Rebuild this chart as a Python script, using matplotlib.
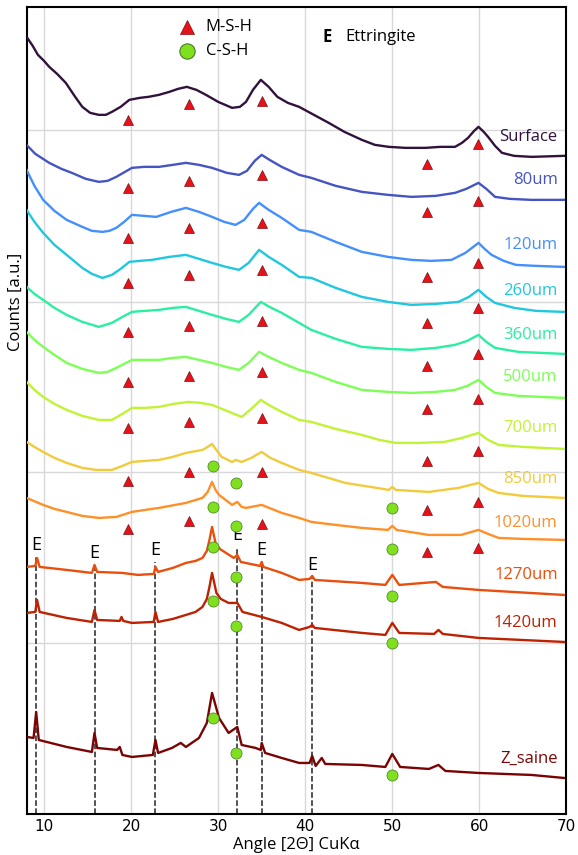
import numpy as np
import matplotlib.pyplot as plt

plt.rcParams['font.family'] = ['Open Sans', 'DejaVu Sans']

# sample names, top to bottom
samples = ['Surface', '80um', '120um', '260um', '360um', '500um', '700um',
           '850um', '1020um', '1270um', '1420um', 'Z_saine']

# angle (2theta) / stacked counts
ang_surface = [8.0, 8.7, 9.3, 10.0, 10.6, 11.5, 12.5, 13.5, 14.4, 15.3, 16.3, 17.1, 17.8, 18.8,
               19.8, 21.0, 22.0, 23.2, 24.4, 25.4, 26.4, 27.5, 28.6, 30.0, 31.6, 32.5, 33.2, 34.0,
               34.9, 35.8, 36.8, 38.0, 39.3, 41.0, 42.7, 44.5, 46.5, 48.0, 49.6, 51.5, 53.8, 55.5,
               57.2, 58.0, 58.7, 59.4, 59.9, 60.5, 61.0, 61.8, 62.6, 64.0, 66.0, 69.7]
cnt_surface = [777, 768, 759, 753, 747, 740, 731, 718, 707, 701, 699, 699, 702, 707,
               714, 716, 717, 719, 722, 725, 727, 724, 719, 712, 706, 707, 712, 724,
               734, 727, 717, 711, 707, 699, 691, 682, 674, 669, 667, 666, 666, 667,
               667, 671, 676, 683, 687, 682, 677, 668, 661, 658, 657, 658]

ang_80 = [8.0, 9.0, 10.6, 12.0, 13.2, 14.8, 16.3, 17.3, 18.3, 19.3, 20.1, 21.5, 23.2, 24.8,
          26.3, 27.8, 29.3, 31.0, 32.4, 33.3, 34.2, 35.0, 35.9, 37.3, 39.3, 40.7, 43.5, 46.5,
          49.5, 52.2, 55.0, 57.2, 58.5, 59.9, 60.8, 61.8, 63.5, 66.0, 69.7]
cnt_80 = [669, 660, 651, 645, 641, 635, 632, 633, 637, 642, 646, 647, 647, 649,
          651, 649, 646, 641, 639, 643, 653, 659, 654, 647, 639, 636, 628, 622,
          619, 617, 618, 621, 625, 631, 625, 617, 615, 614, 614]

ang_120 = [8.0, 8.9, 9.9, 11.2, 12.6, 14.4, 15.5, 16.7, 17.5, 18.3, 19.2, 20.1, 21.5, 22.9,
           24.6, 26.3, 27.8, 29.3, 30.7, 32.0, 33.0, 34.0, 34.7, 35.8, 37.3, 39.3, 40.7, 43.5,
           46.5, 49.5, 52.2, 54.5, 56.8, 58.4, 59.9, 60.6, 61.4, 62.8, 64.2, 66.5, 69.7]
cnt_120 = [644, 628, 614, 603, 594, 587, 583, 582, 583, 586, 592, 599, 598, 597,
           602, 606, 602, 597, 592, 589, 594, 605, 611, 604, 596, 584, 582, 572,
           562, 557, 554, 553, 554, 561, 571, 565, 559, 553, 549, 548, 547]

ang_260 = [8.0, 8.9, 9.9, 11.2, 12.6, 14.4, 15.5, 16.7, 17.8, 18.8, 19.8, 21.0, 22.4, 24.4,
           26.3, 27.8, 29.3, 30.9, 32.4, 33.5, 34.7, 35.8, 37.3, 39.3, 40.7, 43.5, 46.5, 49.5,
           52.2, 55.0, 57.6, 58.8, 59.9, 60.8, 61.8, 64.0, 66.5, 69.7]
cnt_260 = [604, 592, 581, 569, 559, 546, 540, 536, 539, 545, 552, 553, 554, 557,
           559, 555, 551, 547, 544, 551, 564, 557, 549, 537, 536, 526, 517, 512,
           509, 510, 512, 517, 524, 517, 511, 506, 503, 502]

ang_360 = [8.0, 8.9, 9.9, 11.2, 12.6, 14.4, 16.3, 17.8, 19.0, 20.1, 21.6, 23.2, 24.8, 26.3,
           27.8, 29.3, 30.9, 32.4, 33.5, 34.9, 35.9, 37.3, 39.3, 40.7, 43.5, 46.5, 49.5, 52.2,
           55.0, 57.2, 58.6, 59.9, 60.8, 61.8, 64.5, 69.7]
cnt_360 = [527, 520, 514, 506, 499, 492, 487, 491, 497, 502, 503, 504, 506, 507,
           503, 499, 495, 492, 499, 512, 507, 501, 491, 484, 475, 467, 465, 464,
           466, 469, 473, 479, 472, 466, 462, 460]

ang_500 = [8.0, 8.9, 9.9, 11.2, 12.6, 14.4, 16.3, 17.3, 18.3, 19.2, 20.1, 21.6, 23.2, 24.8,
           26.3, 27.8, 29.3, 30.9, 32.4, 33.5, 34.7, 35.8, 37.3, 39.3, 40.7, 43.5, 46.5, 49.5,
           52.2, 55.0, 57.2, 58.6, 59.9, 60.8, 61.8, 64.5, 69.7]
cnt_500 = [482, 474, 467, 459, 451, 445, 441, 442, 446, 450, 454, 454, 454, 456,
           457, 454, 451, 447, 444, 451, 462, 457, 451, 444, 441, 432, 424, 422,
           421, 422, 424, 428, 434, 427, 421, 418, 416]

ang_700 = [8.0, 8.9, 9.9, 11.2, 12.6, 14.4, 16.3, 17.8, 19.0, 20.1, 21.6, 23.2, 24.9, 26.6,
           28.0, 29.3, 31.0, 32.7, 33.8, 34.9, 36.0, 37.3, 39.3, 40.7, 43.5, 46.5, 48.5, 50.4,
           53.0, 56.0, 58.0, 59.9, 61.0, 62.2, 65.0, 69.7]
cnt_700 = [432, 424, 417, 410, 404, 398, 394, 394, 400, 406, 406, 407, 410, 412,
           411, 409, 403, 397, 405, 414, 408, 402, 394, 392, 385, 379, 374, 371,
           371, 372, 376, 381, 374, 369, 367, 365]

ang_850 = [8.0, 8.9, 9.9, 11.2, 12.6, 14.4, 16.0, 17.8, 19.0, 20.1, 21.6, 23.2, 24.8, 26.3,
           28.2, 28.8, 29.3, 29.8, 30.4, 31.6, 32.0, 32.7, 33.8, 35.0, 36.0, 37.3, 39.3, 40.7,
           44.6, 47.5, 49.6, 50.0, 50.4, 54.2, 57.6, 59.9, 61.0, 62.2, 65.0, 69.7]
cnt_850 = [372, 367, 362, 356, 351, 346, 344, 344, 348, 352, 353, 354, 357, 361,
           364, 367, 370, 364, 357, 352, 354, 352, 356, 362, 356, 351, 344, 341,
           331, 327, 324, 327, 324, 322, 326, 331, 325, 321, 318, 316]

ang_1020 = [8.0, 9.9, 11.2, 12.6, 14.4, 16.3, 18.3, 20.1, 21.6, 23.2, 26.3, 28.2, 28.8, 29.3,
            29.7, 30.1, 31.6, 32.2, 32.7, 33.2, 35.0, 37.3, 39.3, 40.7, 43.5, 46.5, 49.5, 50.0,
            50.5, 54.2, 57.9, 59.9, 61.0, 62.2, 65.0, 69.7]
cnt_1020 = [316, 309, 305, 302, 298, 296, 297, 302, 304, 306, 311, 316, 322, 332,
            324, 319, 309, 312, 307, 306, 309, 301, 296, 292, 289, 286, 284, 288,
            284, 279, 279, 284, 280, 276, 275, 274]

ang_1270 = [8.0, 9.0, 9.2, 9.5, 12.6, 15.5, 15.8, 16.1, 19.0, 20.8, 22.6, 22.8, 23.1, 24.8,
            26.3, 27.4, 28.2, 28.7, 29.0, 29.3, 29.7, 30.2, 30.9, 31.8, 32.2, 32.6, 34.8, 35.0,
            35.2, 37.3, 39.3, 40.5, 40.8, 41.1, 46.5, 49.2, 50.0, 50.8, 55.0, 55.8, 59.9, 69.7]
cnt_1270 = [247, 248, 256, 247, 244, 241, 249, 242, 241, 239, 240, 247, 242, 246,
            251, 253, 256, 263, 274, 287, 271, 265, 261, 256, 259, 252, 248, 252,
            247, 241, 234, 235, 238, 234, 231, 229, 239, 229, 232, 227, 224, 219]

ang_1420 = [8.0, 9.0, 9.2, 9.5, 12.6, 15.5, 15.8, 16.1, 18.7, 18.9, 19.1, 20.1, 22.6, 22.8,
            23.1, 24.8, 26.3, 27.4, 28.2, 28.7, 29.0, 29.3, 29.8, 30.3, 31.2, 32.2, 32.8, 35.0,
            37.3, 39.3, 40.5, 40.8, 41.1, 46.5, 49.2, 50.0, 50.8, 54.8, 55.3, 55.8, 59.9, 69.7]
cnt_1420 = [201, 202, 214, 202, 196, 192, 204, 194, 193, 197, 193, 191, 192, 202,
            192, 195, 199, 202, 207, 215, 227, 241, 221, 215, 211, 211, 202, 197,
            191, 184, 187, 189, 186, 181, 179, 191, 181, 180, 184, 180, 176, 172]

ang_saine = [8.0, 8.8, 9.1, 9.4, 12.6, 15.5, 15.8, 16.1, 18.4, 18.7, 19.0, 20.1, 22.5, 22.8,
             23.1, 24.7, 25.7, 26.3, 27.8, 28.7, 29.3, 30.1, 31.2, 32.2, 32.7, 34.3, 34.9, 35.0,
             35.4, 37.3, 39.3, 40.5, 40.8, 41.2, 41.9, 42.3, 46.5, 49.2, 50.0, 50.9, 54.2, 55.3,
             56.1, 59.9, 66.0, 69.7]
cnt_saine = [77, 76, 102, 74, 67, 62, 81, 66, 64, 67, 59, 57, 59, 74,
             61, 66, 71, 67, 76, 91, 121, 96, 81, 87, 69, 66, 64, 71,
             61, 56, 51, 51, 58, 48, 56, 50, 49, 47, 60, 47, 45, 49,
             43, 41, 39, 36]

angles = [ang_surface, ang_80, ang_120, ang_260, ang_360, ang_500, ang_700,
          ang_850, ang_1020, ang_1270, ang_1420, ang_saine]
counts = [cnt_surface, cnt_80, cnt_120, cnt_260, cnt_360, cnt_500, cnt_700,
          cnt_850, cnt_1020, cnt_1270, cnt_1420, cnt_saine]
label_y = [677, 634, 569, 523, 479, 437, 386, 335, 291, 239, 191, 55]

# M-S-H markers (samples Surface..1020um)
msh_ang = [19.7, 26.6, 35.0, 54.0, 59.9]
msh_cnt = [[694, 710, 713, 650, 670],
           [626, 633, 639, 602, 613],
           [576, 586, 591, 537, 551],
           [531, 539, 544, 491, 506],
           [482, 488, 493, 448, 460],
           [432, 438, 442, 405, 415],
           [386, 392, 396, 353, 363],
           [333, 342, 342, 304, 312],
           [285, 293, 290, 262, 266]]

# C-S-H markers (samples 850um..Z_saine)
csh_ang = [29.4, 32.0, 50.0]
csh_cnt = [[348, 331, 306],
           [307, 288, 265],
           [267, 237, 218],
           [213, 188, 171],
           [96, 61, 39]]

# ettringite reflections
ett_ang = [9.1, 15.8, 22.8, 32.2, 35.0, 40.8]
ett_top = [257, 249, 252, 267, 252, 237]

# %%
fig = plt.figure(figsize=(5.78, 8.55), dpi=100)
ax = fig.add_axes([0.046, 0.048, 0.934, 0.944])

colors = plt.cm.turbo(np.linspace(0, 1, len(samples)))
for i, name in enumerate(samples):
    ax.plot(angles[i], counts[i], color=colors[i], lw=1.7, zorder=3,
            solid_joinstyle='round')
    ax.text(69.0, label_y[i], name, color=colors[i], fontsize=12,
            ha='right', va='center', zorder=4)

for row in msh_cnt:
    ax.plot(msh_ang, row, ls='none', marker='^', ms=7.5, mfc='#e8111a',
            mec='#7a1010', mew=0.5, zorder=5)
for row in csh_cnt:
    ax.plot(csh_ang, row, ls='none', marker='o', ms=8, mfc='#7fe01e',
            mec='#4a7a2a', mew=0.5, zorder=5)

for a, top in zip(ett_ang, ett_top):
    ax.plot([a, a], [0, top], color='#222222', ls='--', lw=1.1, zorder=2)
    ax.text(a, top + 3, 'E', fontsize=13, ha='center', va='bottom', zorder=4)

# legend
ax.plot([26.4], [787], ls='none', marker='^', ms=10, mfc='#e8111a',
        mec='#7a1010', mew=0.5)
ax.text(28.5, 787, 'M-S-H', fontsize=12, va='center')
ax.plot([26.4], [763], ls='none', marker='o', ms=11, mfc='#7fe01e',
        mec='#4a7a2a', mew=0.8)
ax.text(28.6, 763, 'C-S-H', fontsize=12, va='center')
ax.text(42.0, 777, 'E', fontsize=12, fontweight='bold', va='center')
ax.text(44.6, 777, 'Ettringite', fontsize=12, va='center')

ax.set_xlim(8, 69.7)
ax.set_ylim(0, 807)
ax.set_xticks([10, 20, 30, 40, 50, 60, 70])
ax.set_yticks([171, 342, 512, 684])
ax.set_yticklabels([])
ax.tick_params(length=0, labelsize=11)
for lab in ax.get_xticklabels():
    lab.set_family('DejaVu Sans')
ax.grid(True, color='#d8d8d8', lw=1)
ax.set_axisbelow(True)
for s in ax.spines.values():
    s.set_linewidth(1.5)
    s.set_color('black')

ax.set_xlabel('Angle [2Θ] CuKα', fontsize=12, labelpad=2)
ax.set_ylabel('Counts [a.u.]', fontsize=12)
ax.yaxis.set_label_coords(-0.006, 0.634)

fig.savefig('out.png', dpi=100, facecolor='white')
